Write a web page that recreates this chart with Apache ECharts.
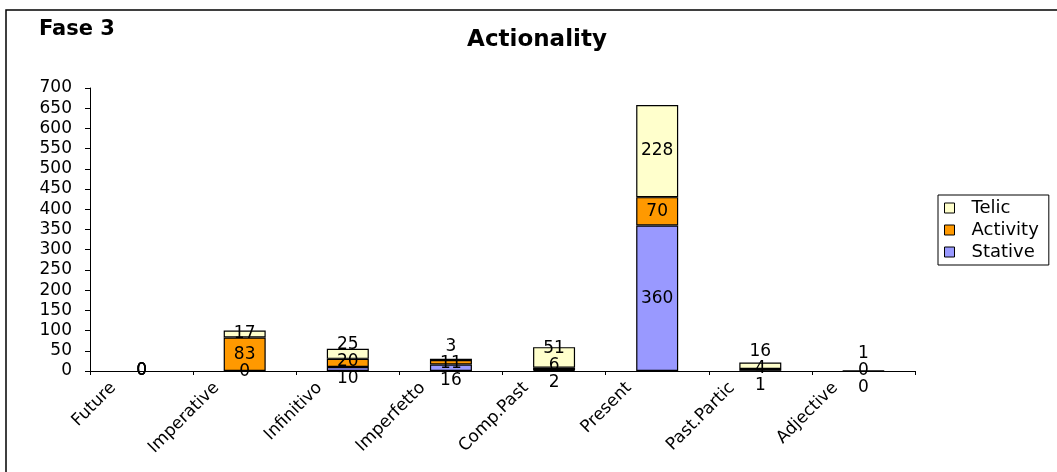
<!DOCTYPE html>
<html>
<head>
<meta charset="utf-8">
<script src="https://cdn.jsdelivr.net/npm/echarts@6/dist/echarts.min.js"></script>
<style>
html,body{margin:0;padding:0;background:#fff;}
#chart{width:1057px;height:472px;}
</style>
</head>
<body>
<div id="chart"></div>
<script>
const categories = ['Future', 'Imperative', 'Infinitivo', 'Imperfetto', 'Comp.Past', 'Present', 'Past.Partic', 'Adjective'];
const stative  = [0, 0, 10, 16, 2, 360, 1, 0];
const activity = [0, 83, 20, 11, 6, 70, 4, 0];
const telic    = [0, 17, 25, 3, 51, 228, 16, 1];
const seriesNames = ['Stative', 'Activity', 'Telic'];
const seriesColors = ['#9999FF', '#FF9900', '#FFFFCC'];
const seriesData = [stative, activity, telic];

const FONT = 'DejaVu Sans';
const chart = echarts.init(document.getElementById('chart'), null, {renderer: 'canvas'});

// spread overlapping labels within one stacked bar (vertical only)
function labelCenterY(si, di) {
  const vals = seriesData.map(s => s[di]);
  const total = vals.reduce((a, b) => a + b, 0);
  let base = 0;
  const ys = [];
  for (let k = 0; k < vals.length; k++) {
    const mid = base + vals[k] / 2;
    ys.push(chart.convertToPixel({gridIndex: 0}, [di, mid])[1]);
    base += vals[k];
  }
  if (total === 0) return ys[si];
  const gap = 17;
  for (let it = 0; it < 30; it++) {
    for (let k = 0; k < ys.length - 1; k++) {
      const d = ys[k] - ys[k + 1];
      if (d < gap) {
        const s = (gap - d) / 2;
        ys[k] += s;
        ys[k + 1] -= s;
      }
    }
  }
  return ys[si];
}

const series = seriesNames.map((name, i) => ({
  name: name,
  type: 'bar',
  stack: 'total',
  data: seriesData[i].map(v => v === 0 ? {value: v, itemStyle: {borderWidth: 0}} : v),
  barWidth: 42,
  itemStyle: {color: seriesColors[i], borderColor: '#000', borderWidth: 1.2},
  label: {
    show: true,
    position: 'inside',
    color: '#000',
    fontFamily: FONT,
    fontSize: 17
  },
  labelLayout: function (p) {
    const target = labelCenterY(p.seriesIndex, p.dataIndex);
    const cur = p.labelRect.y + p.labelRect.height / 2;
    return {dy: target - cur};
  }
}));

chart.setOption({
  animation: false,
  backgroundColor: '#fff',
  title: [
    {text: 'Fase 3', left: 34, top: 14, textStyle: {fontFamily: FONT, fontWeight: 'bold', fontSize: 21, color: '#000'}},
    {text: 'Actionality', left: 532, top: 24, textAlign: 'center', textStyle: {fontFamily: FONT, fontWeight: 'bold', fontSize: 23, color: '#000'}}
  ],
  graphic: [{
    type: 'rect', silent: true, z: -10,
    shape: {x: 6, y: 10, width: 1100, height: 500},
    style: {fill: 'none', stroke: '#000', lineWidth: 1.5}
  }],
  legend: {
    orient: 'vertical',
    left: 938, top: 195,
    data: ['Telic', 'Activity', 'Stative'],
    icon: 'rect',
    itemWidth: 10, itemHeight: 10, itemGap: 4,
    padding: [4, 10, 4, 6],
    borderColor: '#000', borderWidth: 1,
    backgroundColor: '#fff',
    itemStyle: {borderColor: '#000', borderWidth: 1},
    textStyle: {fontFamily: FONT, fontSize: 18, color: '#000', padding: [0, 0, 0, 12]}
  },
  grid: {left: 90, right: 142, top: 88, bottom: 101, containLabel: false},
  xAxis: {
    type: 'category',
    data: categories,
    axisLine: {lineStyle: {color: '#000', width: 1}},
    axisTick: {show: true, length: 4, lineStyle: {color: '#000'}},
    axisLabel: {
      rotate: 45, interval: 0, margin: -14,
      fontFamily: FONT, fontSize: 17, color: '#000',
      padding: [0, 40, 0, 0]
    },
    splitLine: {show: false}
  },
  yAxis: {
    type: 'value',
    min: 0, max: 700, interval: 50,
    axisLine: {show: true, lineStyle: {color: '#000', width: 1}},
    axisTick: {show: true, length: 5, lineStyle: {color: '#000'}},
    axisLabel: {fontFamily: FONT, fontSize: 17, color: '#000', margin: 18},
    splitLine: {show: false}
  },
  series: series
});
</script>
</body>
</html>
